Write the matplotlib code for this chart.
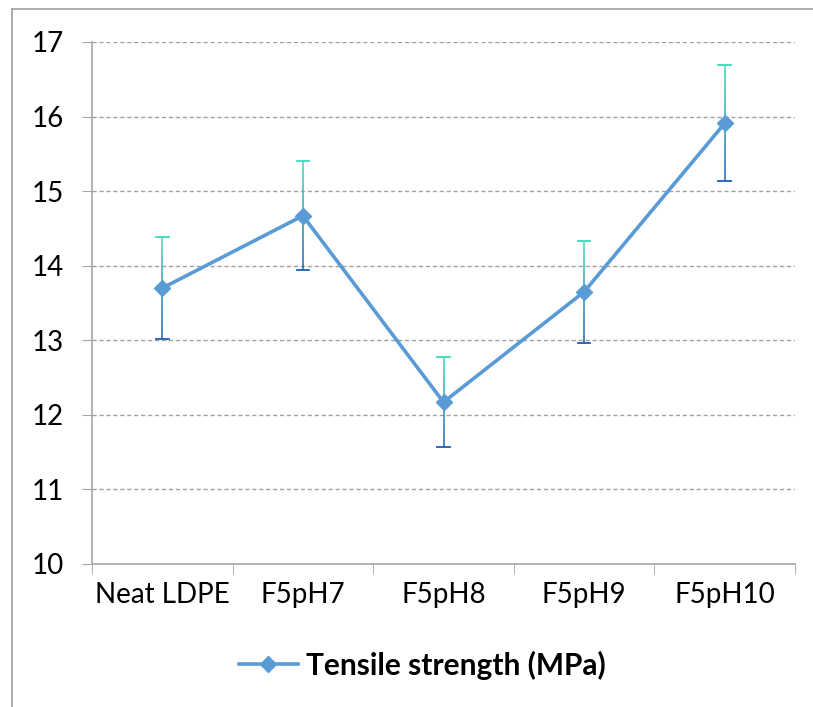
import matplotlib
matplotlib.use("Agg")
import matplotlib.pyplot as plt
import numpy as np
from matplotlib.collections import LineCollection
from matplotlib.lines import Line2D
from matplotlib.colors import to_rgb

categories = ['Neat LDPE', 'F5pH7', 'F5pH8', 'F5pH9', 'F5pH10']
strength = [13.70, 14.67, 12.17, 13.65, 15.91]
errors = [0.68, 0.73, 0.60, 0.68, 0.78]

plt.rcParams['font.family'] = ['Lato', 'DejaVu Sans']

fig = plt.figure(figsize=(8.13, 7.07), dpi=100)
ax = fig.add_axes([92 / 813, 1 - 564 / 707, (795 - 92) / 813, (564 - 42) / 707])

x = np.arange(len(categories))

# error bars with a teal-to-blue gradient like the Excel original
top_c = np.array(to_rgb('#3dd9b8'))
bot_c = np.array(to_rgb('#1a5fb4'))
n = 40
for xi, v, e in zip(x, strength, errors):
    ys = np.linspace(v + e, v - e, n + 1)
    segs = [[(xi, ys[i]), (xi, ys[i + 1])] for i in range(n)]
    cols = [top_c + (bot_c - top_c) * (i / (n - 1)) for i in range(n)]
    ax.add_collection(LineCollection(segs, colors=cols, linewidths=1.1, zorder=2))
    ax.plot([xi - 0.045, xi + 0.045], [v + e, v + e], color=top_c, lw=1.3, zorder=2)
    ax.plot([xi - 0.045, xi + 0.045], [v - e, v - e], color=bot_c, lw=1.3, zorder=2)

ax.plot(x, strength, color='#5b9bd5', lw=2.6, marker='D', markersize=8.5,
        label='Tensile strength (MPa)', zorder=3)

ax.set_xlim(-0.5, len(categories) - 0.5)
ax.set_ylim(10, 17)
ax.set_yticks(range(10, 18))
ax.set_xticks(x)
ax.set_xticklabels(categories)
ax.set_xticks(np.arange(-0.5, len(categories), 1.0), minor=True)

for yv in range(11, 18):
    ax.axhline(yv, color='#a0a0a0', lw=1, ls=(0, (3, 2)), zorder=1)

for side in ['top', 'right']:
    ax.spines[side].set_visible(False)
for side in ['left', 'bottom']:
    ax.spines[side].set_color('#a6a6a6')
    ax.spines[side].set_linewidth(1.2)

ax.tick_params(axis='y', length=7, color='#a6a6a6', labelsize=20, pad=13)
ax.tick_params(axis='x', which='major', length=0, labelsize=20, pad=13)
ax.tick_params(axis='x', which='minor', length=7, color='#a6a6a6')

leg = fig.legend(loc='center', bbox_to_anchor=(422 / 813, 1 - 665 / 707), frameon=False,
                 prop={'weight': 'bold', 'size': 21.5}, handlelength=2.0, handletextpad=0.25)

# outer chart border (left and top visible)
fig.add_artist(Line2D([12 / 813, 12 / 813], [0, 1 - 9 / 707], color='#a0a0a0', lw=1.2))
fig.add_artist(Line2D([12 / 813, 1], [1 - 9 / 707, 1 - 9 / 707], color='#a0a0a0', lw=1.2))

fig.savefig('out.png', dpi=100, facecolor='white')
